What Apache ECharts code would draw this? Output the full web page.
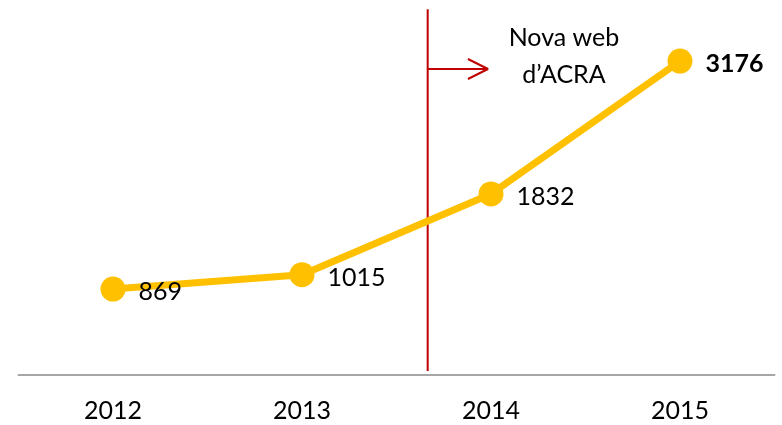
<!DOCTYPE html>
<html><head><meta charset="utf-8">
<script src="https://cdn.jsdelivr.net/npm/echarts@6/dist/echarts.min.js"></script>
<style>html,body{margin:0;padding:0;background:#fff}#c{width:782px;height:425px}</style>
</head><body><div id="c"></div>
<script>
const years = ['2012', '2013', '2014', '2015'];
const visits = [869, 1015, 1832, 3176];
// annotation (in data units: x = category index, y = value)
const dividerX = 1.665;
const dividerY = [40, 3700];
const arrowY = 3096;
const arrowTipX = 1.984;
const arrowHead = [0.106, 101];
const noteText = 'Nova web\nd’ACRA';
const notePos = [2.386, 3228];

const FONT = 'Lato';
const chart = echarts.init(document.getElementById('c'));
chart.setOption({
  animation: false,
  grid: { left: 18.5, right: 7.5, top: 9.3, bottom: 50, containLabel: false },
  xAxis: [
    { type: 'category', data: years, boundaryGap: true,
      axisLine: { lineStyle: { color: '#a6a6a6', width: 2 } },
      axisTick: { show: false },
      axisLabel: { fontFamily: FONT, fontSize: 25, color: '#000', margin: 23 } },
    { type: 'value', min: -0.5, max: 3.5, show: false }
  ],
  yAxis: [{ type: 'value', min: 0, max: 3700, show: false, splitLine: { show: false } }],
  series: [
    { type: 'line', xAxisIndex: 1, data: [[dividerX, dividerY[0]], [dividerX, dividerY[1]]],
      symbol: 'none', lineStyle: { color: '#c00000', width: 2 }, silent: true, z: 1 },
    { type: 'line', xAxisIndex: 1, data: [[dividerX, arrowY], [arrowTipX, arrowY]],
      symbol: 'none', lineStyle: { color: '#c00000', width: 2 }, silent: true, z: 1 },
    { type: 'line', xAxisIndex: 1,
      data: [[arrowTipX - arrowHead[0], arrowY + arrowHead[1]], [arrowTipX, arrowY], [arrowTipX - arrowHead[0], arrowY - arrowHead[1]]],
      symbol: 'none', lineStyle: { color: '#c00000', width: 2 }, silent: true, z: 1 },
    { type: 'scatter', xAxisIndex: 1, data: [notePos], symbolSize: 0,
      itemStyle: { opacity: 1 },
      label: { show: true, position: 'inside', formatter: noteText, fontFamily: FONT, fontSize: 25,
        lineHeight: 37, color: '#000', opacity: 1, align: 'center', verticalAlign: 'middle' }, silent: true },
    { type: 'line', xAxisIndex: 0,
      data: visits.map((v, i) => ({ value: v,
        label: i === visits.length - 1 ? { fontWeight: 'bold' } : {} })),
      symbol: 'circle', symbolSize: 25,
      itemStyle: { color: '#ffc000' },
      lineStyle: { color: '#ffc000', width: 7 },
      z: 3,
      label: { show: true, position: 'right', distance: 13, offset: [0, 3],
        fontFamily: FONT, fontSize: 25, color: '#000' } }
  ]
});
</script></body></html>
